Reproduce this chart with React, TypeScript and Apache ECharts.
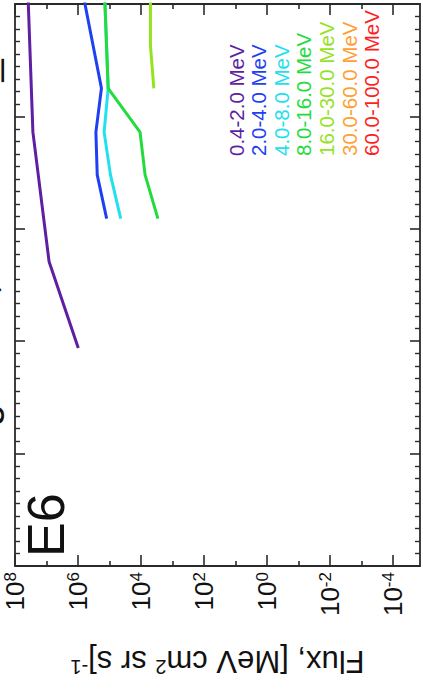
import React, { useEffect, useRef } from "react";
import * as echarts from "echarts";

// Energy channels and their plot colours
const energyBands = [
  "0.4-2.0 MeV",
  "2.0-4.0 MeV",
  "4.0-8.0 MeV",
  "8.0-16.0 MeV",
  "16.0-30.0 MeV",
  "30.0-60.0 MeV",
  "60.0-100.0 MeV",
];
const bandColors = ["#5e1fa2", "#1f40f2", "#22e0ee", "#22dc3e", "#93e41e", "#ffa032", "#ff1e1e"];

// Positions along the sample axis and average flux for each channel
const band1Pos = [1.94, 2.71, 3.86, 5.02];
const band1Flux = [9.8e5, 8.3e6, 2.7e7, 3.8e7];
const band2Pos = [3.09, 3.48, 3.86, 4.25, 5.02];
const band2Flux = [1.23e5, 2.45e5, 2.7e5, 1.8e5, 6.2e5];
const band3Pos = [3.09, 3.48, 3.86, 4.25, 5.02];
const band3Flux = [4.4e4, 9.3e4, 1.48e5, 1.1e5, 1.4e5];
const band4Pos = [3.09, 3.48, 3.86, 4.25, 5.02];
const band4Flux = [2.9e3, 7.4e3, 1.07e4, 1.1e5, 1.4e5];
const band5Pos = [4.25, 4.63, 5.02];
const band5Flux = [3.9e3, 5.0e3, 5.0e3];
const band6Pos: number[] = [];
const band6Flux: number[] = [];
const band7Pos: number[] = [];
const band7Flux: number[] = [];

// Flux axis tick exponents (decades)
const fluxMajorExponents = [8, 6, 4, 2, 0, -2, -4];
const fluxMinorExponents = [7, 5, 3, 1, -1, -3];

const panelLabel = "E6";
const titleText = "Average Flux, 2010-2016_E6";

const FONT = "'Liberation Sans', Arial, Helvetica, sans-serif";
const INK = "#2a2a2a";

export default function App() {
  const ref = useRef<HTMLDivElement>(null);

  useEffect(() => {
    if (!ref.current) return;
    const chart = echarts.init(ref.current, undefined, { renderer: "svg" });

    const bandPositions = [band1Pos, band2Pos, band3Pos, band4Pos, band5Pos, band6Pos, band7Pos];
    const bandFluxes = [band1Flux, band2Flux, band3Flux, band4Flux, band5Flux, band6Flux, band7Flux];

    const fluxRange = { min: -4.86, max: 8 };

    const fluxAxisCommon = {
      type: "value" as const,
      min: fluxRange.min,
      max: fluxRange.max,
      inverse: true,
      splitLine: { show: false },
    };

    const border = { color: INK, width: 1.8 };

    const series = energyBands.map((name, i) => ({
      name,
      type: "line" as const,
      xAxisIndex: 0,
      yAxisIndex: 0,
      showSymbol: false,
      symbol: "none",
      clip: true,
      lineStyle: { color: bandColors[i], width: 3 },
      itemStyle: { color: bandColors[i] },
      data: bandPositions[i].map((p, k) => [Math.log10(bandFluxes[i][k]), p]),
    }));

    const legendTexts = energyBands.map((name, i) => ({
      type: "text" as const,
      x: 236 + i * 22.6,
      y: 156,
      rotation: Math.PI / 2,
      style: {
        text: name,
        fill: bandColors[i],
        font: `20.5px ${FONT}`,
        align: "left",
        verticalAlign: "middle",
      },
    }));

    chart.setOption({
      animation: false,
      backgroundColor: "#ffffff",
      grid: [
        { left: 15, top: 4, width: 405, height: 562 },
        { left: 15, top: 4, width: 405, height: 562 },
      ],
      xAxis: [
        {
          ...fluxAxisCommon,
          gridIndex: 0,
          position: "bottom",
          axisLine: { show: true, onZero: false, lineStyle: border },
          axisTick: {
            show: true,
            inside: true,
            length: 11,
            customValues: fluxMajorExponents,
            lineStyle: { color: INK, width: 1.6 },
          },
          axisLabel: {
            show: true,
            rotate: 90,
            margin: 6,
            customValues: fluxMajorExponents,
            formatter: (v: number) => `{b|10}{s|${Math.round(v)}}`,
            rich: {
              b: { fontSize: 26, fontFamily: FONT, color: "#111" },
              s: { fontSize: 17, fontFamily: FONT, color: "#111", verticalAlign: "top" },
            },
          },
          name: "Flux, [MeV cm{s|2} sr s]{s|-1}",
          nameLocation: "middle",
          nameRotate: 180,
          nameGap: 80,
          nameTextStyle: {
            fontSize: 31,
            fontFamily: FONT,
            color: "#111",
            rich: {
              s: { fontSize: 20, fontFamily: FONT, color: "#111", verticalAlign: "top" },
            },
          },
        },
        {
          ...fluxAxisCommon,
          gridIndex: 0,
          position: "top",
          axisLine: { show: true, onZero: false, lineStyle: border },
          axisTick: {
            show: true,
            inside: true,
            length: 11,
            customValues: fluxMajorExponents,
            lineStyle: { color: INK, width: 1.6 },
          },
          axisLabel: { show: false },
        },
        {
          ...fluxAxisCommon,
          gridIndex: 1,
          position: "bottom",
          axisLine: { show: false, onZero: false },
          axisTick: {
            show: true,
            inside: true,
            length: 5,
            customValues: fluxMinorExponents,
            lineStyle: { color: INK, width: 1.6 },
          },
          axisLabel: { show: false },
        },
        {
          ...fluxAxisCommon,
          gridIndex: 1,
          position: "top",
          axisLine: { show: false, onZero: false },
          axisTick: {
            show: true,
            inside: true,
            length: 5,
            customValues: fluxMinorExponents,
            lineStyle: { color: INK, width: 1.6 },
          },
          axisLabel: { show: false },
        },
      ],
      yAxis: [0, 1].map((k) => ({
        type: "value",
        gridIndex: 0,
        position: k === 0 ? "left" : "right",
        min: 0,
        max: 5,
        interval: 1,
        axisLine: { show: true, onZero: false, lineStyle: border },
        axisTick: { show: true, inside: true, length: 10, lineStyle: { color: INK, width: 1.6 } },
        minorTick: { show: true, splitNumber: 9, length: 5, lineStyle: { color: INK, width: 1.4 } },
        axisLabel: { show: false },
        splitLine: { show: false },
      })).concat([
        {
          type: "value",
          gridIndex: 1,
          position: "left",
          min: 0,
          max: 5,
          interval: 1,
          show: false,
        } as any,
      ]),
      series,
      graphic: [
        {
          type: "text",
          x: -18,
          y: 530,
          rotation: Math.PI / 2,
          silent: true,
          style: {
            text: titleText,
            fill: "#111",
            font: `40px ${FONT}`,
            align: "left",
            verticalAlign: "middle",
          },
        },
        {
          type: "text",
          x: 46,
          y: 557,
          rotation: Math.PI / 2,
          silent: true,
          style: {
            text: panelLabel,
            fill: "#111",
            font: `52px ${FONT}`,
            align: "left",
            verticalAlign: "middle",
          },
        },
        ...legendTexts,
      ],
    });

    return () => chart.dispose();
  }, []);

  return (
    <div
      ref={ref}
      style={{ position: "fixed", left: 0, top: 0, width: 423, height: 693, background: "#fff" }}
    />
  );
}
